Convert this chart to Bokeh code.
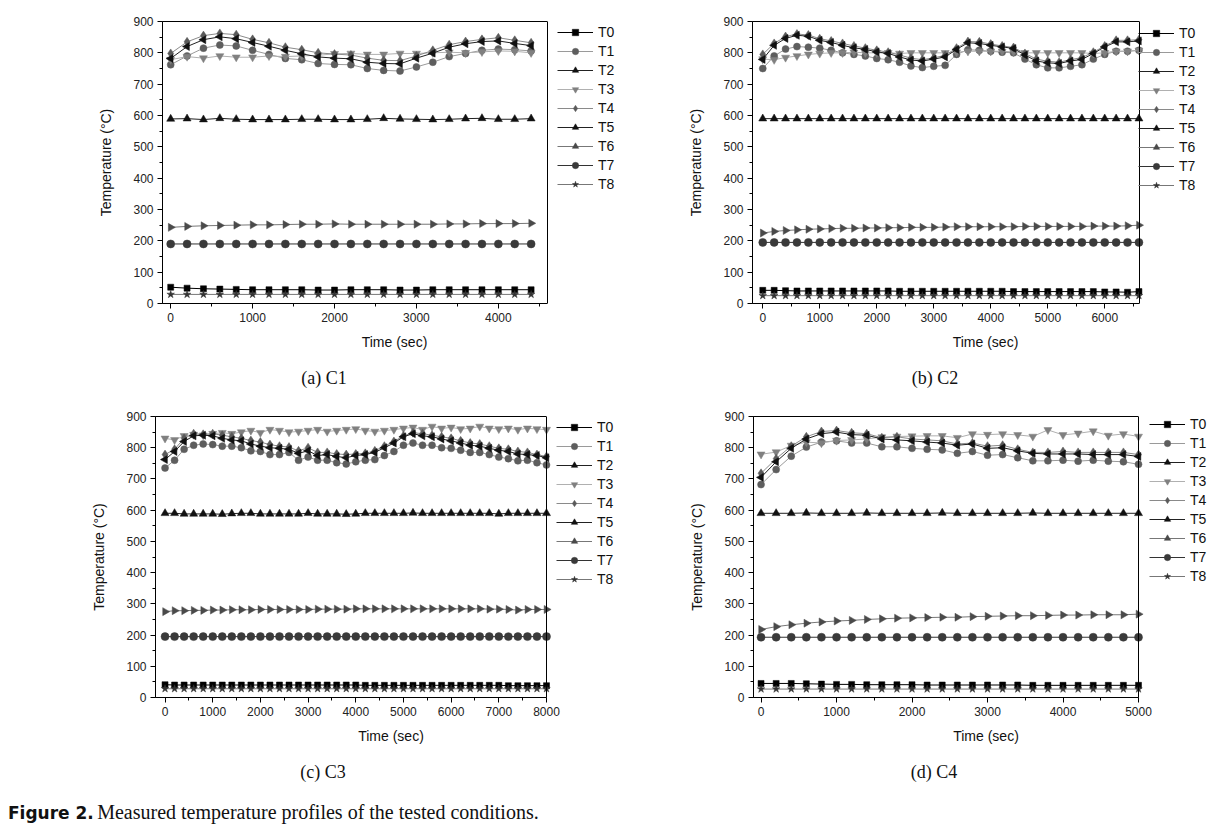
import math
from bokeh.plotting import figure
from bokeh.models import (Legend, LegendItem, SingleIntervalTicker, FixedTicker, Div, Range1d,
                          LinearAxis, Span)
from bokeh.layouts import column, row
from bokeh.embed import file_html
from bokeh.resources import INLINE

LABELS = ["T0", "T1", "T2", "T3", "T4", "T5", "T6", "T7", "T8"]

# ---------------- (a) C1 : 0..4400 s every 200 s ----------------
a_time = list(range(0, 4401, 200))
a_t0 = [52, 49, 47, 46, 45, 44, 44, 44, 44, 43, 43, 44, 44, 44, 43, 43, 44, 44, 44, 44, 44, 44, 44]
a_t1 = [762, 790, 815, 825, 822, 808, 795, 782, 778, 766, 763, 762, 750, 744, 742, 755, 770, 788, 798, 808, 812, 810, 806]
a_t2 = [589, 590, 587, 591, 588, 587, 587, 587, 588, 588, 587, 587, 588, 591, 589, 588, 587, 588, 590, 591, 588, 588, 590]
a_t3 = [778, 788, 783, 790, 786, 786, 790, 788, 790, 792, 797, 798, 795, 795, 798, 798, 800, 802, 800, 803, 806, 805, 800]
a_t4 = [798, 835, 855, 862, 858, 843, 832, 818, 810, 800, 796, 793, 783, 776, 775, 790, 808, 826, 836, 843, 848, 840, 832]
a_t5 = [782, 820, 842, 851, 845, 833, 821, 808, 797, 787, 783, 781, 770, 766, 765, 783, 799, 818, 829, 836, 838, 830, 823]
a_t6 = [243, 246, 248, 249, 250, 251, 251, 252, 253, 253, 254, 253, 253, 253, 253, 253, 253, 254, 254, 255, 255, 255, 256]
a_t7 = [190, 190, 190, 190, 190, 190, 190, 190, 190, 190, 190, 190, 190, 190, 190, 190, 190, 190, 190, 190, 190, 190, 190]
a_t8 = [29, 29, 29, 29, 29, 29, 29, 29, 29, 29, 29, 29, 29, 29, 29, 29, 29, 29, 29, 29, 29, 29, 29]

# ---------------- (b) C2 : 0..6600 s every 200 s ----------------
b_time = list(range(0, 6601, 200))
b_t0 = [42, 42, 41, 40, 40, 40, 40, 40, 40, 40, 40, 40, 39, 39, 39, 39, 39, 39, 39, 39, 39, 39, 38, 38, 38, 38, 38, 38, 38, 38, 37, 37, 36, 38]
b_t1 = [750, 790, 812, 820, 818, 815, 808, 800, 795, 790, 782, 778, 770, 758, 753, 757, 760, 795, 810, 808, 805, 802, 800, 780, 762, 752, 752, 757, 762, 780, 795, 805, 805, 808]
b_t2 = [590, 590, 590, 590, 590, 590, 590, 590, 590, 590, 590, 590, 590, 590, 590, 590, 590, 590, 590, 590, 590, 590, 590, 590, 590, 590, 590, 590, 590, 590, 590, 590, 590, 590]
b_t3 = [780, 778, 785, 790, 795, 798, 800, 800, 802, 800, 800, 800, 798, 800, 800, 800, 800, 802, 805, 805, 805, 805, 803, 800, 800, 800, 800, 800, 800, 798, 800, 805, 805, 808]
b_t4 = [795, 830, 852, 860, 857, 845, 838, 830, 822, 815, 808, 802, 793, 783, 778, 784, 792, 815, 836, 835, 828, 822, 817, 798, 780, 773, 770, 778, 785, 802, 822, 840, 840, 842]
b_t5 = [779, 824, 846, 856, 853, 840, 833, 824, 816, 811, 803, 798, 787, 777, 774, 780, 787, 811, 832, 830, 824, 819, 814, 793, 774, 768, 766, 774, 779, 798, 819, 835, 835, 838]
b_t6 = [225, 230, 233, 235, 237, 238, 239, 240, 240, 241, 241, 242, 242, 243, 243, 243, 244, 245, 245, 245, 245, 245, 245, 246, 246, 246, 246, 246, 246, 247, 247, 247, 248, 250]
b_t7 = [195, 195, 195, 195, 195, 195, 195, 195, 195, 195, 195, 195, 195, 195, 195, 195, 195, 195, 195, 195, 195, 195, 195, 195, 195, 195, 195, 195, 195, 195, 195, 195, 195, 195]
b_t8 = [25, 25, 25, 25, 25, 25, 25, 25, 25, 25, 25, 25, 25, 25, 25, 25, 25, 25, 25, 25, 25, 25, 25, 25, 25, 25, 25, 25, 25, 25, 25, 25, 25, 25]

# ---------------- (c) C3 : 0..8000 s every 200 s ----------------
c_time = list(range(0, 8001, 200))
c_t0 = [41, 40, 40, 40, 40, 40, 40, 40, 40, 40, 40, 40, 40, 40, 40, 40, 40, 40, 40, 40, 40, 39, 39, 39, 39, 39, 39, 39, 39, 39, 39, 39, 39, 39, 39, 39, 38, 38, 38, 38, 38]
c_t1 = [735, 760, 795, 808, 812, 810, 805, 805, 800, 790, 788, 778, 778, 785, 760, 770, 760, 760, 752, 748, 755, 760, 762, 775, 788, 808, 815, 808, 808, 800, 798, 792, 785, 785, 778, 770, 765, 758, 760, 752, 745]
c_t2 = [590, 590, 588, 588, 588, 588, 587, 589, 590, 590, 588, 588, 588, 588, 588, 590, 588, 588, 588, 587, 588, 590, 590, 590, 590, 590, 591, 590, 590, 590, 590, 590, 590, 590, 590, 588, 590, 590, 590, 590, 590]
c_t3 = [830, 825, 838, 842, 840, 845, 848, 845, 850, 855, 848, 858, 855, 850, 852, 855, 858, 852, 855, 858, 860, 855, 852, 855, 858, 862, 865, 858, 868, 862, 865, 860, 862, 868, 862, 860, 862, 858, 862, 860, 858]
c_t4 = [778, 795, 830, 845, 843, 845, 840, 835, 830, 823, 818, 810, 805, 802, 790, 800, 785, 785, 780, 778, 780, 782, 790, 805, 820, 838, 848, 845, 840, 835, 830, 822, 815, 812, 805, 798, 795, 788, 785, 778, 772]
c_t5 = [762, 788, 820, 838, 840, 838, 830, 825, 822, 812, 805, 800, 798, 795, 782, 790, 775, 778, 772, 768, 775, 778, 785, 800, 815, 835, 845, 838, 835, 828, 822, 815, 808, 805, 798, 792, 788, 780, 778, 775, 768]
c_t6 = [275, 278, 278, 279, 279, 280, 280, 281, 281, 281, 282, 282, 282, 282, 282, 282, 283, 283, 283, 283, 284, 284, 284, 284, 284, 284, 284, 284, 284, 284, 284, 284, 284, 284, 283, 283, 282, 280, 282, 282, 282]
c_t7 = [195, 195, 195, 195, 195, 195, 195, 195, 195, 195, 195, 195, 195, 195, 195, 195, 195, 195, 195, 195, 195, 195, 195, 195, 195, 195, 195, 195, 195, 195, 195, 195, 195, 195, 195, 195, 195, 195, 195, 195, 195]
c_t8 = [28, 28, 28, 28, 28, 28, 28, 28, 28, 28, 28, 28, 28, 28, 28, 28, 28, 28, 28, 28, 28, 28, 28, 28, 28, 28, 28, 28, 28, 28, 28, 28, 28, 28, 28, 28, 28, 28, 28, 28, 28]

# ---------------- (d) C4 : 0..5000 s every 200 s ----------------
d_time = list(range(0, 5001, 200))
d_t0 = [45, 45, 45, 44, 43, 42, 42, 41, 41, 41, 41, 40, 40, 40, 40, 40, 40, 40, 39, 39, 39, 39, 39, 39, 39, 39]
d_t1 = [682, 730, 773, 802, 818, 822, 815, 815, 803, 803, 798, 795, 793, 782, 788, 776, 778, 768, 758, 758, 760, 757, 760, 757, 755, 747]
d_t2 = [590, 590, 590, 591, 590, 590, 590, 591, 590, 590, 590, 590, 591, 590, 590, 590, 590, 590, 591, 590, 590, 590, 590, 590, 590, 590]
d_t3 = [779, 786, 807, 818, 815, 823, 825, 828, 834, 836, 837, 838, 838, 832, 844, 842, 844, 841, 836, 857, 841, 846, 853, 839, 844, 836]
d_t4 = [718, 765, 805, 835, 852, 855, 848, 845, 832, 835, 828, 825, 822, 812, 815, 805, 808, 795, 785, 785, 788, 785, 785, 785, 785, 778]
d_t5 = [705, 755, 798, 828, 845, 850, 842, 840, 828, 825, 822, 818, 815, 808, 812, 798, 800, 790, 782, 780, 780, 780, 778, 778, 778, 772]
d_t6 = [218, 227, 233, 238, 242, 245, 247, 250, 252, 254, 255, 256, 257, 257, 259, 260, 261, 262, 262, 263, 264, 264, 265, 265, 265, 267]
d_t7 = [193, 193, 193, 193, 193, 193, 193, 193, 193, 193, 193, 193, 193, 193, 193, 193, 193, 193, 193, 193, 193, 193, 193, 193, 193, 193]
d_t8 = [27, 27, 27, 27, 27, 27, 27, 27, 27, 27, 27, 27, 27, 27, 27, 27, 27, 27, 27, 27, 27, 27, 27, 27, 27, 27]

# ---------------- styles (per series T0..T8) ----------------
STYLES = [
    dict(marker="square", size=6, fill="#000000", line="#000000", angle=0.0),
    dict(marker="circle", size=7, fill="#5e5e5e", line="#9a9a9a", angle=0.0),
    dict(marker="triangle", size=8, fill="#111111", line="#222222", angle=0.0),
    dict(marker="inverted_triangle", size=8, fill="#808080", line="#b0b0b0", angle=0.0),
    dict(marker="diamond", size=9, fill="#5a5a5a", line="#8a8a8a", angle=0.0),
    dict(marker="triangle", size=8, fill="#111111", line="#222222", angle=math.pi / 2),
    dict(marker="triangle", size=8, fill="#4a4a4a", line="#777777", angle=-math.pi / 2),
    dict(marker="circle", size=8, fill="#3a3a3a", line="#333333", angle=0.0),
    dict(marker="star", size=8, fill="#333333", line="#777777", angle=0.0),
]

FONT = "Liberation Sans"
LEG_PAD = 6
LEG_ROW = 16
LEG_SP = 3
LEG_H = 2 * LEG_PAD + 9 * LEG_ROW + 8 * LEG_SP


def make_panel(times, series, xr, data_w, width, height, bl, bt, bb, leg_dx):
    """data_w: pixel width of the boxed data area; the frame continues to the
    right of it so that the legend (drawn inside the frame) is not clipped."""
    br = 4
    fw = width - bl - br
    fh = height - bt - bb
    x0, x1 = xr
    x_end = x0 + (x1 - x0) * fw / data_w
    p = figure(width=width, height=height, x_range=Range1d(x0, x_end), y_range=Range1d(0, 900),
               output_backend="svg", toolbar_location=None,
               min_border_left=bl, min_border_right=br, min_border_top=bt, min_border_bottom=bb)
    p.background_fill_color = "white"
    p.border_fill_color = "white"
    p.outline_line_color = None
    p.xgrid.visible = False
    p.ygrid.visible = False

    p.xaxis.ticker = SingleIntervalTicker(interval=1000, num_minor_ticks=2)
    p.yaxis.ticker = SingleIntervalTicker(interval=100, num_minor_ticks=2)
    p.xaxis.bounds = (x0, x1)
    for ax in (p.xaxis, p.yaxis):
        ax.axis_line_color = "black"
        ax.major_tick_line_color = "black"
        ax.minor_tick_line_color = "black"
        ax.major_tick_out = 5
        ax.major_tick_in = 0
        ax.minor_tick_out = 3
        ax.minor_tick_in = 0
        ax.major_label_text_font = FONT
        ax.major_label_text_font_size = "12px"
        ax.major_label_text_color = "#222222"
        ax.axis_label_text_font = FONT
        ax.axis_label_text_font_size = "14px"
        ax.axis_label_text_font_style = "normal"
        ax.axis_label_text_color = "#111111"
    p.xaxis.axis_label = "Time (sec)"
    p.yaxis.axis_label = "Temperature (\u00b0C)"
    p.xaxis.axis_label_standoff = 9
    p.yaxis.axis_label_standoff = 16
    p.xaxis.major_label_standoff = 4
    p.yaxis.major_label_standoff = 4

    # top spine of the box (an axis without ticks) and right spine
    top = LinearAxis(ticker=FixedTicker(ticks=[]), bounds=(x0, x1),
                     major_label_text_font_size="0px", major_tick_out=0, minor_tick_out=0,
                     axis_line_color="black")
    p.add_layout(top, "above")
    p.add_layout(Span(location=x1, dimension="height", line_color="black", line_width=1))

    items = []
    for lab, vals, st in zip(LABELS, series, STYLES):
        rl = p.line(times, vals, line_color=st["line"], line_width=1)
        rs = p.scatter(times, vals, marker=st["marker"], size=st["size"], angle=st["angle"],
                       fill_color=st["fill"], line_color=st["fill"], line_width=0.5)
        items.append(LegendItem(label=lab, renderers=[rl, rs]))

    leg = Legend(items=items, location=(data_w + leg_dx - LEG_PAD, fh - LEG_H + 8))
    leg.margin = 0
    leg.padding = LEG_PAD
    leg.border_line_color = None
    leg.background_fill_alpha = 0
    leg.label_text_font = FONT
    leg.label_text_font_size = "14px"
    leg.label_text_color = "#111111"
    leg.glyph_width = 36
    leg.glyph_height = LEG_ROW
    leg.label_height = LEG_ROW
    leg.spacing = LEG_SP
    leg.label_standoff = 5
    p.add_layout(leg, "center")
    return p


pa = make_panel(a_time, [a_t0, a_t1, a_t2, a_t3, a_t4, a_t5, a_t6, a_t7, a_t8],
                (-100, 4600), 385, 630, 358, 162, 20, 55, 16)
pb = make_panel(b_time, [b_t0, b_t1, b_t2, b_t3, b_t4, b_t5, b_t6, b_t7, b_t8],
                (-180, 6610), 387, 592, 358, 122, 21, 55, 5)
pc = make_panel(c_time, [c_t0, c_t1, c_t2, c_t3, c_t4, c_t5, c_t6, c_t7, c_t8],
                (-200, 8000), 391, 630, 354, 155, 18, 54, 16)
pd = make_panel(d_time, [d_t0, d_t1, d_t2, d_t3, d_t4, d_t5, d_t6, d_t7, d_t8],
                (-100, 5000), 385, 592, 354, 123, 14, 55, 17)

SERIF = "'Liberation Serif', 'Times New Roman', serif"


def cap_row(t1, w1, t2, pad2, w2, h):
    html = (
        f'<div style="white-space:nowrap;font-family:{SERIF};font-size:18px;color:#111;line-height:{h}px;height:{h}px;">'
        f'<span style="display:inline-block;width:{w1}px;text-align:center;">{t1}</span>'
        f'<span style="display:inline-block;width:{w2}px;padding-left:{pad2}px;text-align:center;">{t2}</span>'
        '</div>'
    )
    return Div(text=html, width=1222, height=h, margin=0)


cap1 = cap_row("(a) C1", 648, "(b) C2", 24, 550, 40)
cap2 = cap_row("(c) C3", 646, "(d) C4", 20, 556, 40)
fig_cap = Div(
    text=(
        '<div style="white-space:nowrap;line-height:40px;height:40px;color:#111;padding-left:8px;">'
        '<span style="font-family:\'DejaVu Sans\', sans-serif;font-weight:bold;font-size:17px;">Figure 2.</span> '
        f'<span style="font-family:{SERIF};font-size:20px;">Measured temperature profiles of the tested conditions.</span>'
        '</div>'
    ),
    width=1222, height=40, margin=0,
)

layout = column(row(pa, pb), cap1, row(pc, pd), cap2, fig_cap)

open("out.html", "w").write(file_html(layout, INLINE))
